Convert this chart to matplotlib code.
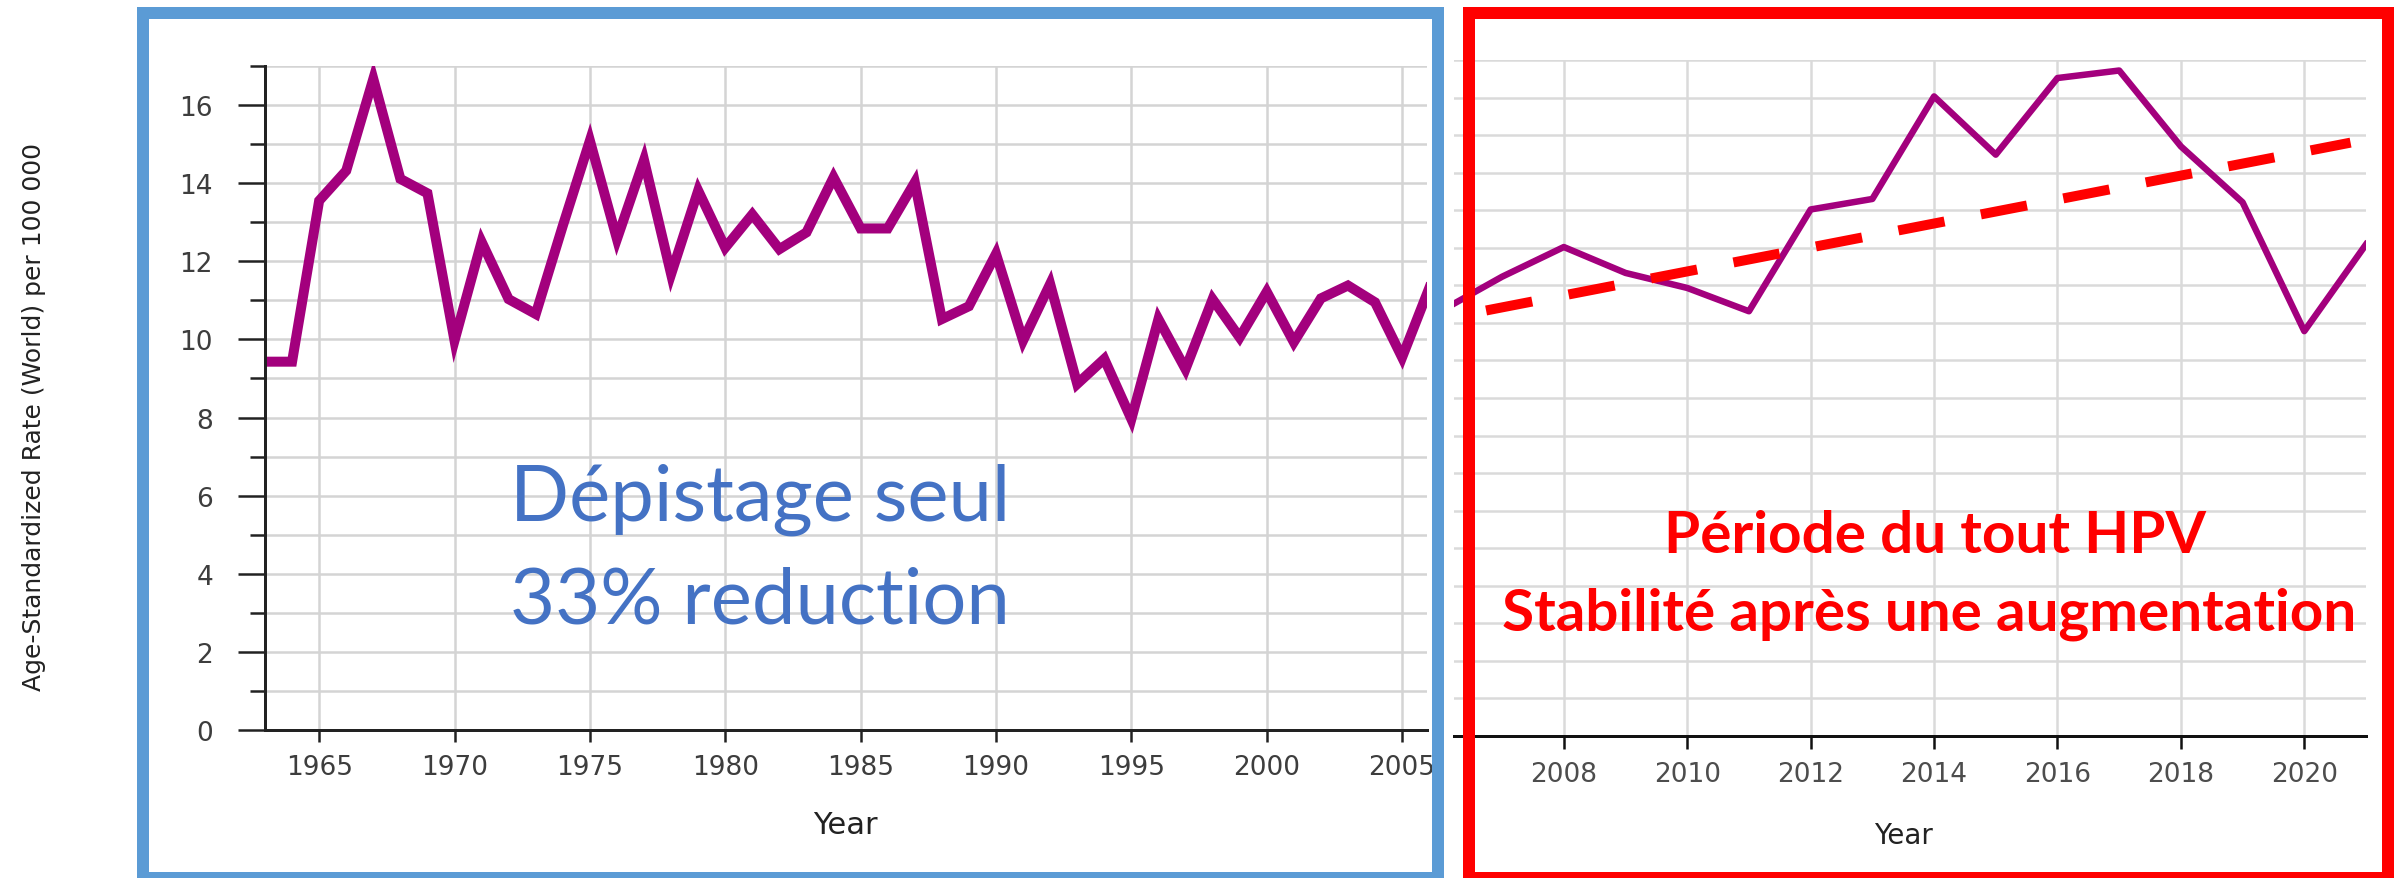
import matplotlib
matplotlib.use("Agg")
import matplotlib.pyplot as plt
from matplotlib.patches import Rectangle
from matplotlib.ticker import MultipleLocator

W, H = 2394, 879

# left panel: screening only, 1963-2006
years_left = list(range(1963, 2007))
rate_left = [9.43, 9.43, 13.55, 14.32, 16.67, 14.11, 13.74, 9.97, 12.50, 11.03,
             10.65, 12.91, 15.09, 12.57, 14.59, 11.67, 13.81, 12.35, 13.20, 12.31,
             12.74, 14.15, 12.84, 12.84, 14.02, 10.52, 10.85, 12.19, 9.97, 11.42,
             8.86, 9.50, 7.96, 10.52, 9.24, 11.03, 10.05, 11.22, 9.93, 11.05,
             11.38, 10.95, 9.54, 11.31]

# right panel: HPV period, 2006-2021
years_right = list(range(2006, 2022))
rate_right = [11.31, 12.23, 13.02, 12.33, 11.93, 11.31, 14.02, 14.30, 17.03, 15.48,
              17.52, 17.72, 15.70, 14.21, 10.78, 13.09]
trend_years = [2006.74, 2020.75]
trend_rate = [11.33, 15.80]

PURPLE = '#A3007D'
GRID = '#d4d4d4'


def fx(px):
    return px / W


def fy(py):
    return 1 - py / H


def px_pt(px):
    return px * 72 / 100


fig = plt.figure(figsize=(W / 100, H / 100), dpi=100)
fig.patch.set_facecolor('white')

# ---- left chart
ax1 = fig.add_axes([fx(265), fy(731), fx(1427 - 265), (731 - 67) / H])
ax1.plot(years_left, rate_left, color=PURPLE, lw=px_pt(10), solid_joinstyle='miter')
ax1.set_xlim(1963, 2005.92)
ax1.set_ylim(0, 17)
ax1.xaxis.set_major_locator(MultipleLocator(5))
ax1.yaxis.set_major_locator(MultipleLocator(2))
ax1.yaxis.set_minor_locator(MultipleLocator(1))
ax1.grid(True, which='both', axis='y', color=GRID, lw=px_pt(2.5))
ax1.grid(True, which='major', axis='x', color=GRID, lw=px_pt(2.5))
ax1.set_axisbelow(True)
for s in ['top', 'right']:
    ax1.spines[s].set_visible(False)
for s in ['left', 'bottom']:
    ax1.spines[s].set_color('#222222')
    ax1.spines[s].set_linewidth(px_pt(3))
ax1.tick_params(axis='y', which='major', length=px_pt(27), width=px_pt(2.5),
                color='#222222', pad=18, labelsize=19, labelcolor='#3d3d3d')
ax1.tick_params(axis='y', which='minor', length=px_pt(15), width=px_pt(2.5), color='#222222')
ax1.tick_params(axis='x', length=px_pt(12), width=px_pt(2.5), color='#222222',
                pad=9, labelsize=19, labelcolor='#3d3d3d')

# ---- right chart
ax2 = fig.add_axes([fx(1454), fy(737), fx(2366 - 1454), (737 - 61) / H])
ax2.plot(years_right, rate_right, color=PURPLE, lw=px_pt(6.5))
ax2.plot(trend_years, trend_rate, color='#FF0000', lw=px_pt(10),
         dashes=(4.7, 3.7), dash_capstyle='butt')
ax2.set_xlim(2006.22, 2021)
ax2.set_ylim(0, 18)
ax2.xaxis.set_major_locator(MultipleLocator(2))
ax2.yaxis.set_major_locator(MultipleLocator(1))
ax2.grid(True, color='#dadada', lw=px_pt(2.5))
ax2.set_axisbelow(True)
for s in ['top', 'right', 'left']:
    ax2.spines[s].set_visible(False)
ax2.spines['bottom'].set_color('#111111')
ax2.spines['bottom'].set_linewidth(px_pt(3))
ax2.tick_params(axis='y', left=False, labelleft=False)
ax2.tick_params(axis='x', length=px_pt(13), width=px_pt(2.5), color='#111111',
                pad=9, labelsize=19, labelcolor='#4d4d4d')

# axis titles
fig.text(fx(845), fy(826), 'Year', ha='center', va='center', fontsize=22, color='#222222')
fig.text(fx(1903), fy(836), 'Year', ha='center', va='center', fontsize=20, color='#222222')
fig.text(fx(34), fy(417), 'Age-Standardized Rate (World) per 100 000', rotation=90,
         ha='center', va='center', fontsize=18, color='#222222')

# annotations
blue_txt = dict(family='Lato', fontsize=56, color='#4472C4', ha='left', va='baseline')
fig.text(fx(510), fy(521), 'Dépistage seul', **blue_txt)
fig.text(fx(510), fy(624), '33% reduction', **blue_txt)

red_txt = dict(family='Lato', fontweight='bold', fontsize=42, color='#FF0000',
               ha='center', va='baseline')
fig.text(fx(1935), fy(553), 'Période du tout HPV', **red_txt)
fig.text(fx(1929), fy(631), 'Stabilité après une augmentation', **red_txt)

# frames
fig.add_artist(Rectangle((fx(143), fy(879)), fx(1438 - 143), (879 - 14) / H,
                         transform=fig.transFigure, fill=False,
                         edgecolor='#5B9BD5', lw=px_pt(12), clip_on=False))
fig.add_artist(Rectangle((fx(1469), fy(879)), fx(2388 - 1469), (879 - 14) / H,
                         transform=fig.transFigure, fill=False,
                         edgecolor='#FF0000', lw=px_pt(12), clip_on=False))

fig.savefig('out.png', dpi=100)
